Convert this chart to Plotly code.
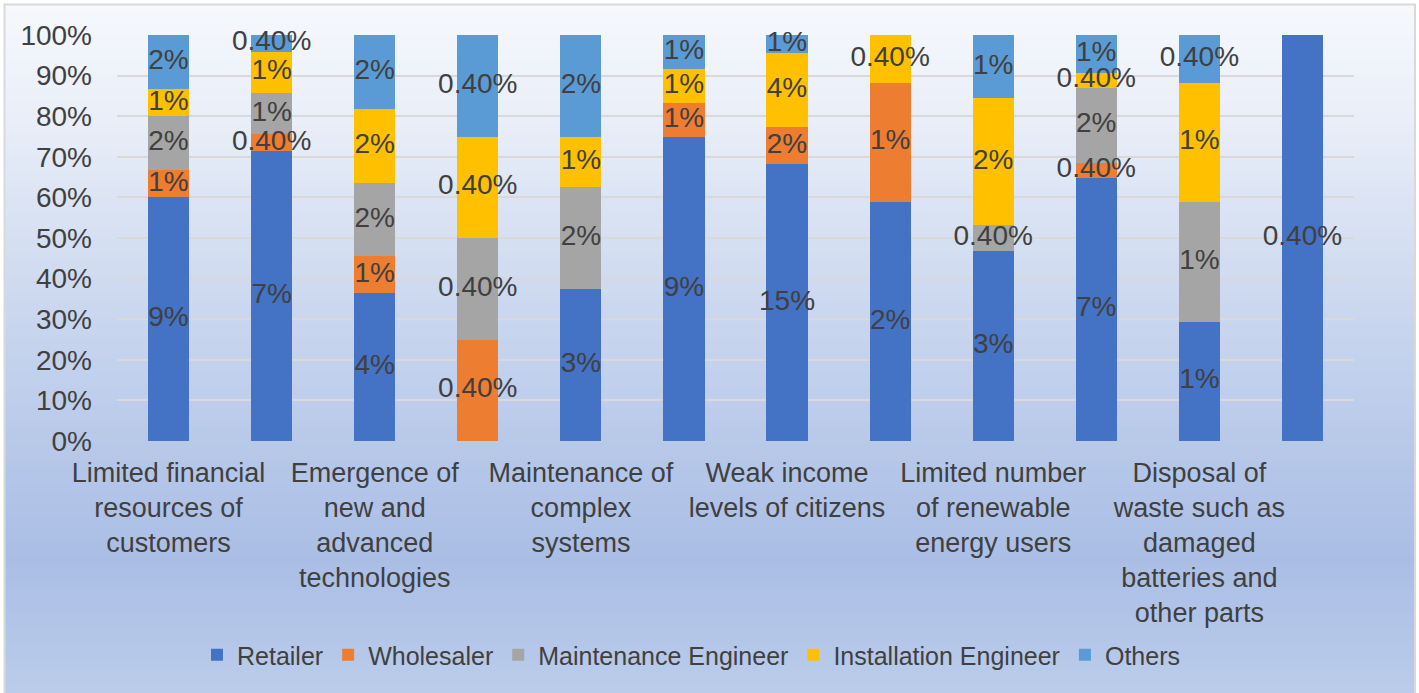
import plotly.graph_objects as go

# ---------------- data (values as displayed in the data labels, in %) ----------------
categories = [
    "Limited financial<br>resources of<br>customers",
    "",
    "Emergence of<br>new and<br>advanced<br>technologies",
    "",
    "Maintenance of<br>complex<br>systems",
    "",
    "Weak income<br>levels of citizens",
    "",
    "Limited number<br>of renewable<br>energy users",
    "",
    "Disposal of<br>waste such as<br>damaged<br>batteries and<br>other parts",
    "",
]
series_names = ["Retailer", "Wholesaler", "Maintenance Engineer", "Installation Engineer", "Others"]
retailer    = [9, 7,   4, 0,   3, 9, 15, 2,   3,   7,   1, 0.4]
wholesaler  = [1, 0.4, 1, 0.4, 0, 1, 2,  1,   0,   0.4, 0, 0]
maintenance = [2, 1,   2, 0.4, 2, 0, 0,  0,   0.4, 2,   1, 0]
installation= [1, 1,   2, 0.4, 1, 1, 4,  0.4, 2,   0.4, 1, 0]
others      = [2, 0.4, 2, 0.4, 2, 1, 1,  0,   1,   1,   0.4, 0]
colors = ["#4472C4", "#ED7D31", "#A5A5A5", "#FFC000", "#5B9BD5"]
y_ticks = [0, 0.1, 0.2, 0.3, 0.4, 0.5, 0.6, 0.7, 0.8, 0.9, 1.0]

series = [retailer, wholesaler, maintenance, installation, others]
totals = [sum(s[i] for s in series) for i in range(len(categories))]
xpos = list(range(len(categories)))

W, H = 1419, 693
L, R, T, B = 117, 65, 35, 252
FONT = "Arial, Liberation Sans, sans-serif"
TXT = "#404040"
FS = 28


def fmt(v):
    if v == 0:
        return ""
    if v < 1:
        return f"{v:.2f}%"
    return f"{v:.0f}%"


fig = go.Figure()
shares = [[v / t for v, t in zip(vals, totals)] for vals in series]

# stacked bars
for name, sh, col in zip(series_names, shares, colors):
    fig.add_trace(go.Bar(
        x=xpos, y=sh, name=name,
        marker=dict(color=col, line=dict(width=0)),
        hoverinfo="skip",
    ))

# data labels drawn above all bars, at the middle of each segment
base = [0.0] * len(categories)
for name, vals, sh in zip(series_names, series, shares):
    mids = [b + s / 2 for b, s in zip(base, sh)]
    fig.add_trace(go.Scatter(
        x=xpos, y=mids, mode="text", text=[fmt(v) for v in vals],
        textposition="middle center",
        textfont=dict(family=FONT, size=FS, color=TXT),
        showlegend=False, hoverinfo="skip", cliponaxis=False,
    ))
    base = [b + s for b, s in zip(base, sh)]

# ---- background gradient (decoration) ----
pw, ph = W - L - R, H - T - B


def px2x(px):
    return (px - L) / pw


def py2y(py):
    return (H - B - py) / ph


stops = [(5, (246, 248, 253)), (120, (233, 238, 248)), (320, (201, 214, 238)),
         (470, (180, 198, 232)), (560, (170, 190, 229)), (700, (188, 205, 235))]


def col_at(py):
    for (a, ca), (b, cb) in zip(stops[:-1], stops[1:]):
        if a <= py <= b:
            f = (py - a) / (b - a)
            return tuple(round(ca[k] + (cb[k] - ca[k]) * f) for k in range(3))
    return stops[-1][1]


shapes = []
step = 6
py = 5
while py < 700:
    c = col_at(py + step / 2)
    shapes.append(dict(type="rect", xref="paper", yref="paper", layer="below",
                       x0=px2x(5), x1=px2x(1415), y0=py2y(py), y1=py2y(py + step + 0.5),
                       fillcolor=f"rgb({c[0]},{c[1]},{c[2]})", line=dict(width=0)))
    py += step
shapes.append(dict(type="rect", xref="paper", yref="paper", layer="below",
                   x0=px2x(4.5), x1=px2x(1415), y0=py2y(4.5), y1=py2y(710),
                   fillcolor="rgba(0,0,0,0)", line=dict(color="#d9d9d9", width=2)))

fig.update_layout(
    barmode="stack",
    bargap=0.6,
    width=W, height=H,
    margin=dict(l=L, r=R, t=T, b=B, pad=0),
    paper_bgcolor="white",
    plot_bgcolor="rgba(0,0,0,0)",
    font=dict(family=FONT, size=FS, color=TXT),
    shapes=shapes,
    showlegend=True,
    legend=dict(orientation="h", x=px2x(691), xanchor="center", y=py2y(655), yanchor="middle",
                font=dict(family=FONT, size=25, color=TXT), bgcolor="rgba(0,0,0,0)",
                traceorder="normal", itemwidth=30),
    xaxis=dict(range=[-0.5, len(categories) - 0.5], tickvals=xpos, ticktext=categories,
               showgrid=False, zeroline=False, showline=False, ticks="",
               tickfont=dict(family=FONT, size=27, color=TXT), ticklabelstandoff=13,
               fixedrange=True),
    yaxis=dict(range=[0, 1], tickvals=y_ticks, tickformat=".0%", showgrid=True,
               gridcolor="#d9d9d9", gridwidth=2, zeroline=False, showline=False, ticks="",
               tickfont=dict(family=FONT, size=FS, color=TXT), ticklabelstandoff=24,
               fixedrange=True),
)

fig.write_html(
    "out.html",
    config={"displayModeBar": False},
    post_script="document.body.style.margin='0';document.body.style.overflow='hidden';",
)
